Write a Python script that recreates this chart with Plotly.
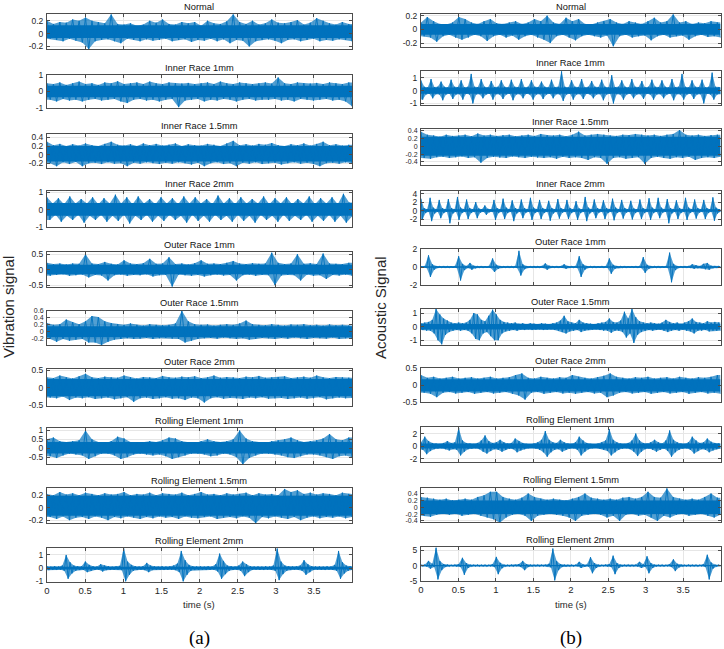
import plotly.graph_objects as go

# ---------------- data (envelope max/min per time bin) ----------------
titles = ["Normal", "Inner Race 1mm", "Inner Race 1.5mm", "Inner Race 2mm", "Outer Race 1mm",
          "Outer Race 1.5mm", "Outer Race 2mm", "Rolling Element 1mm", "Rolling Element 1.5mm",
          "Rolling Element 2mm"]
x_ticks = [0, 0.5, 1, 1.5, 2, 2.5, 3, 3.5]
t_end = 3.999

# vibration (a)
vib_normal_hi = [0.2,0.15,0.18,0.17,0.22,0.2,0.25,0.2,0.18,0.16,0.3,0.15,0.14,0.16,0.12,0.14,0.2,0.17,0.22,0.15,0.14,0.18,0.16,0.18,0.12,0.2,0.16,0.15,0.19,0.3,0.18,0.15,0.2,0.14,0.16,0.22,0.17,0.16,0.18,0.21,0.14,0.17,0.24,0.2,0.16,0.14,0.18,0.15]
vib_normal_lo = [-0.08,-0.1,-0.12,-0.08,-0.11,-0.14,-0.24,-0.12,-0.1,-0.09,-0.12,-0.15,-0.08,-0.1,-0.12,-0.09,-0.11,-0.1,-0.08,-0.12,-0.1,-0.09,-0.13,-0.1,-0.11,-0.08,-0.12,-0.09,-0.15,-0.1,-0.11,-0.2,-0.12,-0.1,-0.09,-0.11,-0.15,-0.1,-0.09,-0.12,-0.1,-0.08,-0.12,-0.1,-0.11,-0.09,-0.1,-0.12]
vib_ir1_hi = [0.5,0.45,0.55,0.4,0.5,0.6,0.45,0.5,0.4,0.55,0.5,0.62,0.45,0.5,0.55,0.45,0.6,0.5,0.45,0.55,0.5,0.48,0.52,0.45,0.5,0.55,0.45,0.6,0.5,0.45,0.55,0.5,0.45,0.5,0.55,0.48,0.85,0.5,0.45,0.55,0.5,0.48,0.52,0.45,0.55,0.5,0.45,0.55]
vib_ir1_lo = [-0.5,-0.6,-0.45,-0.55,-0.5,-0.6,-0.5,-0.45,-0.55,-0.5,-0.45,-0.6,-0.7,-0.5,-0.45,-0.55,-0.5,-0.6,-0.5,-0.45,-0.95,-0.55,-0.5,-0.45,-0.6,-0.5,-0.55,-0.45,-0.5,-0.6,-0.5,-0.45,-0.55,-0.5,-0.5,-0.45,-0.55,-0.5,-0.6,-0.45,-0.5,-0.55,-0.5,-0.45,-0.55,-0.5,-0.6,-0.9]
vib_ir15_hi = [0.3,0.22,0.25,0.2,0.24,0.21,0.26,0.22,0.2,0.25,0.3,0.23,0.21,0.24,0.2,0.26,0.22,0.25,0.21,0.23,0.26,0.2,0.24,0.22,0.21,0.25,0.23,0.2,0.26,0.32,0.22,0.24,0.21,0.25,0.23,0.27,0.22,0.2,0.24,0.22,0.26,0.21,0.25,0.3,0.22,0.24,0.21,0.23]
vib_ir15_lo = [-0.2,-0.27,-0.18,-0.22,-0.17,-0.27,-0.2,-0.19,-0.22,-0.18,-0.21,-0.2,-0.27,-0.19,-0.21,-0.18,-0.2,-0.22,-0.19,-0.21,-0.18,-0.2,-0.23,-0.19,-0.27,-0.2,-0.18,-0.22,-0.2,-0.27,-0.19,-0.21,-0.18,-0.22,-0.2,-0.19,-0.23,-0.2,-0.18,-0.21,-0.19,-0.22,-0.27,-0.2,-0.19,-0.21,-0.18,-0.2]
vib_ir2_hi = [0.7,0.35,0.65,0.3,0.75,0.35,0.6,0.35,0.7,0.3,0.65,0.35,0.85,0.35,0.7,0.3,0.75,0.35,0.6,0.3,0.7,0.35,0.65,0.3,0.75,0.35,0.7,0.35,0.6,0.3,0.8,0.35,0.65,0.3,0.7,0.35,0.6,0.35,0.75,0.3,0.65,0.35,0.7,0.3,0.6,0.35,0.75,0.3,0.65,0.35,0.7,0.3,0.9,0.4]
vib_ir2_lo = [-0.6,-0.3,-0.7,-0.35,-0.6,-0.3,-0.75,-0.35,-0.6,-0.3,-0.7,-0.35,-0.65,-0.3,-0.8,-0.35,-0.6,-0.3,-0.7,-0.35,-0.65,-0.3,-0.6,-0.35,-0.75,-0.3,-0.65,-0.35,-0.7,-0.3,-0.6,-0.35,-0.7,-0.3,-0.65,-0.35,-0.75,-0.3,-0.6,-0.35,-0.7,-0.3,-0.65,-0.35,-0.6,-0.3,-0.7,-0.35,-0.65,-0.3,-0.7,-0.35,-0.75,-0.4]
vib_or1_hi = [0.22,0.18,0.2,0.17,0.2,0.19,0.5,0.2,0.18,0.25,0.19,0.17,0.3,0.2,0.18,0.21,0.35,0.19,0.2,0.4,0.18,0.2,0.17,0.21,0.3,0.19,0.2,0.18,0.22,0.28,0.2,0.18,0.21,0.19,0.2,0.55,0.22,0.18,0.2,0.5,0.19,0.21,0.18,0.52,0.2,0.19,0.18,0.22]
vib_or1_lo = [-0.2,-0.17,-0.15,-0.2,-0.18,-0.16,-0.25,-0.17,-0.19,-0.35,-0.18,-0.16,-0.2,-0.17,-0.18,-0.15,-0.22,-0.18,-0.17,-0.55,-0.16,-0.18,-0.2,-0.17,-0.22,-0.18,-0.16,-0.19,-0.17,-0.35,-0.18,-0.16,-0.2,-0.17,-0.18,-0.5,-0.19,-0.17,-0.18,-0.35,-0.16,-0.2,-0.18,-0.3,-0.17,-0.19,-0.16,-0.2]
vib_or15_hi = [0.25,0.2,0.22,0.35,0.28,0.22,0.3,0.45,0.42,0.3,0.25,0.22,0.2,0.24,0.2,0.18,0.22,0.2,0.19,0.2,0.24,0.6,0.3,0.22,0.2,0.21,0.18,0.2,0.22,0.2,0.24,0.32,0.22,0.2,0.19,0.22,0.2,0.18,0.21,0.2,0.22,0.19,0.2,0.18,0.21,0.19,0.2,0.18]
vib_or15_lo = [-0.2,-0.28,-0.2,-0.25,-0.22,-0.2,-0.3,-0.3,-0.37,-0.28,-0.22,-0.2,-0.18,-0.2,-0.19,-0.17,-0.2,-0.18,-0.17,-0.19,-0.2,-0.3,-0.25,-0.2,-0.18,-0.17,-0.19,-0.16,-0.18,-0.2,-0.18,-0.22,-0.2,-0.17,-0.18,-0.2,-0.17,-0.19,-0.16,-0.18,-0.2,-0.17,-0.18,-0.19,-0.16,-0.2,-0.18,-0.17]
vib_or2_hi = [0.3,0.28,0.35,0.3,0.27,0.33,0.4,0.3,0.28,0.32,0.3,0.29,0.35,0.3,0.27,0.31,0.3,0.28,0.34,0.3,0.29,0.32,0.3,0.33,0.28,0.3,0.35,0.29,0.31,0.3,0.28,0.32,0.3,0.34,0.29,0.3,0.31,0.33,0.28,0.3,0.32,0.29,0.35,0.3,0.28,0.31,0.3,0.29]
vib_or2_lo = [-0.28,-0.3,-0.25,-0.35,-0.28,-0.3,-0.27,-0.32,-0.3,-0.28,-0.33,-0.3,-0.27,-0.4,-0.3,-0.28,-0.32,-0.3,-0.27,-0.31,-0.3,-0.35,-0.28,-0.3,-0.42,-0.3,-0.27,-0.31,-0.29,-0.3,-0.32,-0.28,-0.3,-0.27,-0.31,-0.3,-0.29,-0.32,-0.3,-0.28,-0.31,-0.3,-0.27,-0.33,-0.3,-0.28,-0.3,-0.29]
vib_re1_hi = [0.5,0.6,0.4,0.35,0.4,0.45,1.0,0.5,0.35,0.3,0.4,0.65,0.55,0.35,0.3,0.35,0.4,0.35,0.45,0.6,0.55,0.4,0.35,0.3,0.4,0.5,0.4,0.35,0.4,0.5,1.0,0.55,0.4,0.35,0.3,0.4,0.45,0.5,0.6,0.45,0.35,0.4,0.45,0.55,0.8,0.5,0.45,0.6]
vib_re1_lo = [-0.45,-0.55,-0.4,-0.3,-0.35,-0.4,-0.6,-0.45,-0.3,-0.3,-0.4,-0.6,-0.5,-0.35,-0.3,-0.35,-0.4,-0.35,-0.45,-0.6,-0.5,-0.4,-0.3,-0.3,-0.35,-0.45,-0.4,-0.3,-0.35,-0.5,-0.9,-0.55,-0.4,-0.3,-0.3,-0.35,-0.4,-0.5,-0.55,-0.45,-0.35,-0.35,-0.4,-0.5,-0.6,-0.45,-0.4,-0.5]
vib_re15_hi = [0.22,0.2,0.25,0.21,0.23,0.2,0.24,0.22,0.2,0.23,0.21,0.22,0.25,0.2,0.22,0.21,0.24,0.2,0.23,0.22,0.21,0.24,0.2,0.22,0.25,0.21,0.22,0.2,0.23,0.21,0.22,0.24,0.2,0.23,0.21,0.22,0.2,0.3,0.25,0.28,0.22,0.24,0.21,0.23,0.22,0.2,0.24,0.22]
vib_re15_lo = [-0.15,-0.18,-0.14,-0.2,-0.16,-0.15,-0.18,-0.14,-0.16,-0.2,-0.15,-0.17,-0.14,-0.16,-0.18,-0.15,-0.17,-0.14,-0.16,-0.15,-0.18,-0.14,-0.16,-0.17,-0.15,-0.14,-0.18,-0.16,-0.15,-0.17,-0.14,-0.16,-0.25,-0.15,-0.17,-0.14,-0.16,-0.18,-0.15,-0.2,-0.16,-0.14,-0.17,-0.15,-0.16,-0.14,-0.17,-0.15]
vib_re2_hi = [0.15,0.12,0.15,0.13,0.2,1.0,0.45,0.2,0.15,0.14,
              0.5,0.25,0.15,0.13,0.3,0.2,0.15,0.12,0.14,0.18,
              1.5,0.5,0.25,0.15,0.13,0.15,0.4,0.2,0.14,0.12,
              0.15,0.13,0.14,0.2,0.35,1.3,0.6,0.25,0.15,0.13,
              0.14,0.12,0.15,0.13,0.3,1.1,0.55,0.2,0.15,0.13,
              0.2,0.5,0.3,0.15,0.13,0.14,0.12,0.15,0.13,0.2,
              1.5,0.5,0.2,0.15,0.13,0.14,0.2,0.6,0.3,0.15,
              0.13,0.14,0.12,0.15,0.13,0.25,1.3,0.45,0.2,0.15]
vib_re2_lo = [-0.15,-0.13,-0.14,-0.12,-0.2,-0.8,-0.4,-0.2,-0.14,-0.13,
              -0.3,-0.2,-0.14,-0.12,-0.25,-0.15,-0.14,-0.13,-0.12,-0.15,
              -1.0,-0.5,-0.2,-0.14,-0.12,-0.15,-0.3,-0.15,-0.13,-0.12,
              -0.14,-0.13,-0.12,-0.15,-0.3,-1.0,-0.5,-0.2,-0.14,-0.13,
              -0.12,-0.14,-0.13,-0.12,-0.25,-0.8,-0.45,-0.2,-0.14,-0.12,
              -0.2,-0.6,-0.3,-0.14,-0.12,-0.13,-0.14,-0.12,-0.13,-0.2,
              -0.9,-0.45,-0.2,-0.14,-0.12,-0.13,-0.2,-0.5,-0.3,-0.14,
              -0.12,-0.13,-0.14,-0.12,-0.13,-0.2,-0.8,-0.4,-0.2,-0.14]

# acoustic (b)
ac_normal_hi = [0.1,0.18,0.12,0.08,0.07,0.1,0.18,0.15,0.1,0.08,0.12,0.15,0.09,0.08,0.1,0.12,0.08,0.1,0.15,0.12,0.2,0.1,0.08,0.17,0.12,0.15,0.08,0.07,0.1,0.12,0.15,0.1,0.08,0.12,0.1,0.08,0.12,0.17,0.1,0.12,0.22,0.1,0.12,0.08,0.1,0.09,0.12,0.1]
ac_normal_lo = [-0.1,-0.12,-0.18,-0.1,-0.08,-0.12,-0.15,-0.12,-0.08,-0.1,-0.17,-0.1,-0.08,-0.12,-0.09,-0.15,-0.1,-0.08,-0.12,-0.15,-0.2,-0.1,-0.08,-0.12,-0.16,-0.1,-0.08,-0.1,-0.12,-0.09,-0.25,-0.1,-0.08,-0.12,-0.1,-0.09,-0.16,-0.1,-0.08,-0.12,-0.1,-0.09,-0.15,-0.1,-0.08,-0.11,-0.1,-0.12]
ac_ir1_hi = [0.8,0.3,0.25, 0.9,0.28,0.3, 0.7,0.3,0.25, 0.85,0.3,0.28, 0.8,0.25,0.3, 1.3,0.3,0.28,
             0.9,0.3,0.25, 0.75,0.28,0.3, 0.8,0.3,0.25, 0.85,0.3,0.28, 0.9,0.25,0.3, 0.8,0.3,0.28,
             0.7,0.3,0.25, 0.85,0.28,0.3, 1.5,0.3,0.25, 0.8,0.3,0.28, 0.9,0.25,0.3, 0.75,0.3,0.28,
             0.85,0.3,0.25, 1.2,0.28,0.3, 0.8,0.3,0.25, 0.9,0.3,0.28, 0.75,0.25,0.3, 0.85,0.3,0.28,
             0.8,0.3,0.25, 0.9,0.28,0.3, 1.3,0.3,0.25, 0.8,0.3,0.28, 0.85,0.25,0.3, 1.4,0.3,0.28]
ac_ir1_lo = [-0.7,-0.3,-0.25, -0.6,-0.28,-0.3, -0.75,-0.3,-0.25, -0.65,-0.3,-0.28, -0.7,-0.25,-0.3, -1.0,-0.3,-0.28,
             -0.6,-0.3,-0.25, -0.7,-0.28,-0.3, -0.65,-0.3,-0.25, -0.75,-0.3,-0.28, -0.6,-0.25,-0.3, -0.7,-0.3,-0.28,
             -0.65,-0.3,-0.25, -0.6,-0.28,-0.3, -0.8,-0.3,-0.25, -0.7,-0.3,-0.28, -0.65,-0.25,-0.3, -0.6,-0.3,-0.28,
             -0.75,-0.3,-0.25, -1.0,-0.28,-0.3, -0.7,-0.3,-0.25, -0.6,-0.3,-0.28, -0.65,-0.25,-0.3, -0.7,-0.3,-0.28,
             -0.6,-0.3,-0.25, -0.75,-0.28,-0.3, -0.7,-0.3,-0.25, -0.65,-0.3,-0.28, -1.0,-0.25,-0.3, -0.7,-0.3,-0.28]
ac_ir15_hi = [0.38,0.3,0.28,0.25,0.3,0.27,0.28,0.3,0.26,0.33,0.28,0.3,0.27,0.29,0.3,0.26,0.28,0.3,0.27,0.32,0.29,0.28,0.3,0.26,0.3,0.38,0.28,0.3,0.32,0.3,0.28,0.27,0.3,0.29,0.32,0.3,0.28,0.3,0.27,0.3,0.32,0.42,0.3,0.28,0.3,0.27,0.29,0.3]
ac_ir15_lo = [-0.3,-0.32,-0.28,-0.27,-0.3,-0.28,-0.26,-0.3,-0.28,-0.42,-0.3,-0.27,-0.29,-0.3,-0.26,-0.28,-0.3,-0.27,-0.29,-0.3,-0.28,-0.32,-0.27,-0.3,-0.28,-0.3,-0.35,-0.28,-0.3,-0.45,-0.3,-0.28,-0.32,-0.3,-0.28,-0.45,-0.3,-0.27,-0.3,-0.32,-0.28,-0.3,-0.27,-0.35,-0.3,-0.28,-0.3,-0.27]
ac_ir2_hi = [2.8,0.6,0.3, 3.0,0.7,0.3, 2.5,0.6,0.3, 2.7,0.6,0.3, 3.2,0.7,0.3, 2.6,0.6,0.3, 2.0,0.5,0.3, 1.2,0.4,0.3,
             2.5,0.6,0.3, 2.8,0.7,0.3, 2.4,0.6,0.3, 2.6,0.6,0.3, 3.0,0.7,0.3, 2.5,0.6,0.3, 2.3,0.6,0.3, 2.7,0.6,0.3,
             2.5,0.6,0.3, 2.2,0.5,0.3, 3.2,0.7,0.3, 2.6,0.6,0.3, 2.4,0.6,0.3, 2.8,0.7,0.3, 2.5,0.6,0.3, 2.3,0.5,0.3,
             2.6,0.6,0.3, 2.9,0.7,0.3, 3.0,0.7,0.3, 2.7,0.6,0.3, 2.4,0.6,0.3, 3.0,0.7,0.3, 2.6,0.6,0.3, 2.5,0.6,0.3,
             3.1,0.7,0.3]
ac_ir2_lo = [-2.0,-0.6,-0.3, -2.5,-0.7,-0.3, -1.8,-0.6,-0.3, -3.0,-0.7,-0.3, -2.2,-0.6,-0.3, -2.0,-0.6,-0.3, -1.8,-0.5,-0.3, -1.0,-0.4,-0.3,
             -2.2,-0.6,-0.3, -2.0,-0.6,-0.3, -2.5,-0.7,-0.3, -1.8,-0.5,-0.3, -2.2,-0.6,-0.3, -2.0,-0.6,-0.3, -2.4,-0.7,-0.3, -1.9,-0.5,-0.3,
             -2.0,-0.6,-0.3, -2.2,-0.6,-0.3, -2.5,-0.7,-0.3, -1.8,-0.5,-0.3, -2.0,-0.6,-0.3, -2.3,-0.6,-0.3, -1.9,-0.5,-0.3, -2.1,-0.6,-0.3,
             -2.0,-0.6,-0.3, -2.2,-0.6,-0.3, -1.8,-0.5,-0.3, -3.0,-0.7,-0.3, -2.0,-0.6,-0.3, -2.2,-0.6,-0.3, -1.9,-0.5,-0.3, -2.0,-0.6,-0.3,
             -2.4,-0.7,-0.3]
ac_or1_hi = [0.1,0.12,1.3,0.3,0.12,0.1,0.12,0.1,0.11,0.12,
             1.2,0.35,0.12,0.45,0.15,0.1,0.12,0.1,0.12,0.95,
             0.25,0.12,0.1,0.12,0.1,0.12,1.8,0.3,0.12,0.1,
             0.12,0.1,0.12,0.4,0.15,0.1,0.12,0.11,0.3,0.12,
             0.1,0.12,1.2,0.3,0.12,0.1,0.12,0.1,0.12,0.11,
             0.95,0.25,0.12,0.1,0.12,0.11,0.1,0.12,0.1,1.1,
             0.25,0.12,0.1,0.12,0.1,0.12,1.6,0.35,0.12,0.1,
             0.12,0.1,0.3,0.2,0.12,0.35,0.45,0.15,0.12,0.1]
ac_or1_lo = [-0.1,-0.12,-1.1,-0.3,-0.12,-0.1,-0.12,-0.1,-0.11,-0.12,
             -1.5,-0.35,-0.12,-0.3,-0.15,-0.1,-0.12,-0.1,-0.12,-0.55,
             -0.2,-0.12,-0.1,-0.12,-0.1,-0.12,-0.95,-0.25,-0.12,-0.1,
             -0.12,-0.1,-0.12,-0.3,-0.12,-0.1,-0.12,-0.11,-0.2,-0.12,
             -0.1,-0.12,-1.1,-0.3,-0.12,-0.1,-0.12,-0.1,-0.12,-0.11,
             -0.75,-0.2,-0.12,-0.1,-0.12,-0.11,-0.1,-0.12,-0.1,-0.65,
             -0.2,-0.12,-0.1,-0.12,-0.1,-0.12,-1.7,-0.35,-0.12,-0.1,
             -0.12,-0.1,-0.2,-0.15,-0.12,-0.25,-0.3,-0.15,-0.12,-0.1]
ac_or15_hi = [0.25,0.3,0.35,0.5,1.3,0.9,0.6,0.45,0.3,0.25,
              0.3,0.25,0.3,0.5,1.0,0.9,0.5,0.4,0.8,1.25,
              0.9,0.5,0.35,0.3,0.25,0.3,0.22,0.25,0.2,0.25,
              0.22,0.2,0.25,0.22,0.2,0.25,0.3,0.45,0.8,0.4,
              0.3,0.25,0.5,0.3,0.25,0.22,0.2,0.25,0.3,0.35,
              0.6,0.35,0.3,0.45,1.1,0.6,1.3,0.7,0.4,0.3,
              0.25,0.3,0.25,0.22,0.3,0.5,0.35,0.25,0.3,0.22,
              0.3,0.4,0.6,0.35,0.3,0.25,0.4,0.3,0.35,0.3]
ac_or15_lo = [-0.25,-0.3,-0.3,-0.5,-1.0,-1.3,-0.6,-0.4,-0.3,-0.25,
              -0.3,-0.25,-0.3,-0.5,-0.9,-1.0,-0.5,-0.4,-0.7,-1.0,
              -1.0,-0.5,-0.35,-0.3,-0.25,-0.3,-0.22,-0.25,-0.2,-0.25,
              -0.22,-0.2,-0.25,-0.22,-0.2,-0.25,-0.3,-0.4,-0.5,-0.35,
              -0.3,-0.25,-0.4,-0.3,-0.25,-0.22,-0.2,-0.25,-0.3,-0.3,
              -0.45,-0.3,-0.3,-0.4,-0.8,-0.5,-1.2,-0.6,-0.4,-0.3,
              -0.25,-0.3,-0.25,-0.22,-0.3,-0.4,-0.3,-0.25,-0.3,-0.22,
              -0.3,-0.35,-0.5,-0.3,-0.3,-0.25,-0.35,-0.3,-0.3,-0.3]
ac_or2_hi = [0.3,0.22,0.25,0.2,0.22,0.25,0.2,0.22,0.24,0.2,0.22,0.25,0.2,0.22,0.24,0.3,0.35,0.22,0.2,0.25,0.22,0.2,0.24,0.22,0.3,0.25,0.22,0.2,0.24,0.28,0.35,0.25,0.22,0.2,0.24,0.22,0.25,0.2,0.22,0.24,0.2,0.25,0.22,0.2,0.24,0.22,0.25,0.3]
ac_or2_lo = [-0.22,-0.25,-0.35,-0.22,-0.2,-0.24,-0.22,-0.2,-0.25,-0.22,-0.2,-0.24,-0.22,-0.2,-0.25,-0.3,-0.42,-0.22,-0.2,-0.25,-0.22,-0.2,-0.24,-0.22,-0.25,-0.22,-0.2,-0.24,-0.22,-0.35,-0.3,-0.22,-0.2,-0.24,-0.22,-0.2,-0.25,-0.22,-0.2,-0.24,-0.22,-0.2,-0.25,-0.22,-0.2,-0.24,-0.22,-0.25]
ac_re1_hi = [0.6,1.5,0.8,0.5,0.4,0.35,0.5,0.8,0.5,0.6,
             2.9,0.9,0.5,0.4,0.35,0.5,0.9,1.7,0.8,0.5,
             0.6,1.0,0.6,0.4,0.5,1.2,0.8,0.5,0.35,0.3,
             0.4,0.6,1.0,2.4,1.0,0.6,0.5,1.0,0.6,0.4,
             0.35,0.6,1.5,0.9,0.5,0.35,0.3,0.4,0.6,0.9,
             2.7,1.0,0.6,0.4,0.35,0.5,0.9,2.0,0.9,0.5,
             0.4,0.6,1.0,0.6,0.4,0.9,2.5,1.0,0.6,0.4,
             0.35,0.6,1.5,0.9,0.5,0.6,1.2,0.7,0.5,0.4]
ac_re1_lo = [-0.6,-1.3,-0.8,-0.5,-0.4,-0.35,-0.5,-0.7,-0.5,-0.6,
             -1.5,-0.9,-0.5,-0.4,-0.35,-0.5,-0.9,-1.2,-0.8,-0.5,
             -0.6,-0.9,-0.6,-0.4,-0.5,-1.0,-0.7,-0.5,-0.35,-0.3,
             -0.4,-0.6,-1.0,-1.7,-1.0,-0.6,-0.5,-0.9,-0.6,-0.4,
             -0.35,-0.6,-1.5,-0.9,-0.5,-0.35,-0.3,-0.4,-0.6,-0.8,
             -1.5,-1.0,-0.6,-0.4,-0.35,-0.5,-0.9,-1.6,-0.9,-0.5,
             -0.4,-0.6,-0.9,-0.6,-0.4,-0.8,-1.7,-1.0,-0.6,-0.4,
             -0.35,-0.6,-1.2,-0.8,-0.5,-0.6,-1.0,-0.7,-0.5,-0.4]
ac_re15_hi = [0.3,0.28,0.25,0.22,0.25,0.2,0.22,0.25,0.22,0.3,0.35,0.45,0.45,0.3,0.25,0.22,0.28,0.4,0.3,0.25,0.22,0.25,0.22,0.2,0.25,0.3,0.4,0.28,0.25,0.22,0.25,0.22,0.28,0.3,0.25,0.3,0.45,0.3,0.28,0.55,0.3,0.25,0.22,0.25,0.22,0.3,0.4,0.28]
ac_re15_lo = [-0.25,-0.28,-0.22,-0.2,-0.22,-0.2,-0.25,-0.22,-0.2,-0.25,-0.3,-0.35,-0.45,-0.3,-0.22,-0.2,-0.25,-0.4,-0.25,-0.22,-0.2,-0.22,-0.25,-0.3,-0.4,-0.25,-0.22,-0.2,-0.22,-0.3,-0.25,-0.4,-0.22,-0.2,-0.25,-0.22,-0.3,-0.4,-0.25,-0.3,-0.22,-0.2,-0.25,-0.22,-0.2,-0.25,-0.3,-0.22]
ac_re2_hi = [0.25,0.3,1.5,0.6,5.8,1.5,0.5,0.3,0.25,0.3,
             0.5,2.5,0.8,0.3,0.25,0.3,0.25,0.3,0.25,0.5,
             2.8,0.9,0.3,0.25,0.3,0.25,0.5,1.5,0.5,0.3,
             0.25,0.3,0.25,0.3,0.6,5.5,1.5,0.5,0.3,0.25,
             0.3,0.25,1.2,0.4,0.3,2.7,0.8,0.3,0.25,0.3,
             0.5,3.2,0.8,0.3,0.25,0.3,0.25,0.3,1.2,0.4,
             3.0,0.8,0.3,0.25,0.3,0.25,0.5,2.0,0.6,0.3,
             0.25,0.3,0.25,0.3,0.25,0.5,3.5,1.0,0.3,0.25]
ac_re2_lo = [-0.25,-0.3,-1.0,-0.5,-4.5,-1.5,-0.5,-0.3,-0.25,-0.3,
             -0.5,-3.0,-0.8,-0.3,-0.25,-0.3,-0.25,-0.3,-0.25,-0.5,
             -2.8,-0.9,-0.3,-0.25,-0.3,-0.25,-0.5,-1.5,-0.5,-0.3,
             -0.25,-0.3,-0.25,-0.3,-0.6,-4.8,-1.5,-0.5,-0.3,-0.25,
             -0.3,-0.25,-0.8,-0.4,-0.3,-2.5,-0.8,-0.3,-0.25,-0.3,
             -0.5,-2.8,-0.8,-0.3,-0.25,-0.3,-0.25,-0.3,-0.8,-0.4,
             -2.5,-0.8,-0.3,-0.25,-0.3,-0.25,-0.5,-1.8,-0.6,-0.3,
             -0.25,-0.3,-0.25,-0.3,-0.25,-0.5,-4.5,-1.0,-0.3,-0.25]

# dense-core band of each signal (lower, upper)
vib_core = [(-0.07,0.13),(-0.35,0.35),(-0.16,0.2),(-0.35,0.38),(-0.15,0.16),
            (-0.15,0.16),(-0.24,0.25),(-0.3,0.35),(-0.13,0.19),(-0.1,0.1)]
ac_core = [(-0.08,0.08),(-0.25,0.25),(-0.24,0.25),(-0.3,0.3),(-0.08,0.08),
           (-0.2,0.2),(-0.18,0.18),(-0.4,0.4),(-0.2,0.2),(-0.2,0.2)]

vib_hi = [vib_normal_hi, vib_ir1_hi, vib_ir15_hi, vib_ir2_hi, vib_or1_hi, vib_or15_hi, vib_or2_hi, vib_re1_hi, vib_re15_hi, vib_re2_hi]
vib_lo = [vib_normal_lo, vib_ir1_lo, vib_ir15_lo, vib_ir2_lo, vib_or1_lo, vib_or15_lo, vib_or2_lo, vib_re1_lo, vib_re15_lo, vib_re2_lo]
ac_hi = [ac_normal_hi, ac_ir1_hi, ac_ir15_hi, ac_ir2_hi, ac_or1_hi, ac_or15_hi, ac_or2_hi, ac_re1_hi, ac_re15_hi, ac_re2_hi]
ac_lo = [ac_normal_lo, ac_ir1_lo, ac_ir15_lo, ac_ir2_lo, ac_or1_lo, ac_or15_lo, ac_or2_lo, ac_re1_lo, ac_re15_lo, ac_re2_lo]

vib_yticks = [[-0.2,0,0.2],[-1,0,1],[-0.2,0,0.2,0.4],[-1,0,1],[-0.5,0,0.5],
              [-0.2,0,0.2,0.4,0.6],[-0.5,0,0.5],[-0.5,0,0.5,1],[-0.2,0,0.2],[-1,0,1]]
vib_yrange = [[-0.24,0.3],[-1,1],[-0.3,0.48],[-1,1.06],[-0.55,0.56],
              [-0.37,0.6],[-0.52,0.53],[-0.9,1.12],[-0.25,0.31],[-1.02,1.5]]
ac_yticks = [[-0.2,0,0.2],[-1,0,1],[-0.4,-0.2,0,0.2,0.4],[-2,0,2,4],[-2,0,2],
             [-1,0,1],[-0.5,0,0.5],[-2,0,2],[-0.4,-0.2,0,0.2,0.4],[-5,0,5]]
ac_yrange = [[-0.25,0.22],[-1.12,1.55],[-0.48,0.44],[-3.4,4.6],[-2,2],
             [-1.35,1.3],[-0.5,0.5],[-2.5,3],[-0.44,0.57],[-5,5.9]]

# ---------------- layout geometry (pixels) ----------------
W, H = 724, 649
left_x = (47, 352)
right_x = (421, 720.5)
left_rows = [(14.3,49),(75,108),(134,167.5),(191,227),(252.3,286.7),(310.7,345),(369.3,406),(428.3,464.3),(488.3,523.3),(548.3,581.7)]
right_rows = [(14.3,46.5),(70.7,105),(129.3,165),(191,225),(249,285),(309,345),(368.3,402.3),(427.3,461.7),(487.7,522.3),(547.3,581)]

BLUE = "#0072BD"
LIGHT = "rgba(0,114,189,0.68)"
AX = "#4d4d4d"
GRID = "#e6e6e6"
FONT = "Liberation Sans, Arial, sans-serif"

def zig(hi, lo):
    n = len(hi)
    dt = t_end / (n - 0.5)
    xs, ys = [], []
    for i in range(n):
        xs += [i * dt, (i + 0.5) * dt]
        ys += [hi[i], lo[i]]
    return xs, ys

def envelope(hi, lo):
    n = len(hi)
    dt = t_end / (n - 0.5)
    up_t = [i * dt for i in range(n)] + [t_end]
    dn_t = [(i + 0.5) * dt for i in range(n)]
    up_v = list(hi) + [hi[-1]]
    dn_v = list(lo)
    return up_t + dn_t[::-1] + [0], up_v + dn_v[::-1] + [lo[0]]

def fmt(v):
    return f"{v:g}"

fig = go.Figure()
layout = dict(width=W, height=H, margin=dict(l=0, r=0, t=0, b=0, autoexpand=False),
              paper_bgcolor="white", plot_bgcolor="white", showlegend=False,
              font=dict(family=FONT, size=10, color="#262626"))
annotations = []

panels = []
for r in range(10):
    panels.append((left_x, left_rows[r], vib_hi[r], vib_lo[r], vib_core[r], vib_yticks[r], vib_yrange[r], titles[r], r == 9))
for r in range(10):
    panels.append((right_x, right_rows[r], ac_hi[r], ac_lo[r], ac_core[r], ac_yticks[r], ac_yrange[r], titles[r], r == 9))

for k, (xd, yd, hi, lo, core, yt, yr, title, bottom) in enumerate(panels, start=1):
    ex, ey = envelope(hi, lo)
    fig.add_trace(go.Scatter(x=ex, y=ey, mode="lines", fill="toself", fillcolor=LIGHT,
                             line=dict(width=0), xaxis=f"x{k}", yaxis=f"y{k}", hoverinfo="skip"))
    fig.add_trace(go.Scatter(x=[0, t_end, t_end, 0], y=[core[1], core[1], core[0], core[0]],
                             mode="lines", fill="toself", fillcolor=BLUE, line=dict(width=0),
                             xaxis=f"x{k}", yaxis=f"y{k}", hoverinfo="skip"))
    xs, ys = zig(hi, lo)
    fig.add_trace(go.Scatter(x=xs, y=ys, mode="lines", line=dict(color=BLUE, width=0.9),
                             xaxis=f"x{k}", yaxis=f"y{k}", hoverinfo="skip"))
    xname = "xaxis" if k == 1 else f"xaxis{k}"
    yname = "yaxis" if k == 1 else f"yaxis{k}"
    layout[xname] = dict(domain=[xd[0] / W, xd[1] / W], anchor=f"y{k}", range=[0, t_end],
                         tickmode="array", tickvals=x_ticks,
                         ticktext=[fmt(v) for v in x_ticks] if bottom else [""] * len(x_ticks),
                         ticks="inside", ticklen=3, tickcolor=AX, showline=True, linecolor=AX,
                         linewidth=1, mirror="ticks", showgrid=True, gridcolor=GRID, gridwidth=1,
                         zeroline=False, automargin=False, ticklabelstandoff=0,
                         tickfont=dict(size=9.5, color="#262626"))
    yfs = 7 if len(yt) >= 5 else 8.5
    layout[yname] = dict(domain=[1 - yd[1] / H, 1 - yd[0] / H], anchor=f"x{k}", range=yr,
                         tickmode="array", tickvals=yt, ticktext=[fmt(v) for v in yt],
                         ticks="inside", ticklen=3, tickcolor=AX, showline=True, linecolor=AX,
                         linewidth=1, mirror="ticks", showgrid=True, gridcolor=GRID, gridwidth=1,
                         zeroline=False, automargin=False, ticklabelstandoff=1,
                         tickfont=dict(size=yfs, color="#262626"))
    annotations.append(dict(text=title, x=(xd[0] + xd[1]) / 2 / W, y=1 - (yd[0] - 0.5) / H,
                            xref="paper", yref="paper", xanchor="center", yanchor="bottom",
                            showarrow=False, font=dict(size=9.3, color="#111111", family=FONT)))

annotations += [
    dict(text="time (s)", x=199.5 / W, y=1 - 604 / H, xref="paper", yref="paper",
         xanchor="center", yanchor="middle", showarrow=False, font=dict(size=9.5, color="#262626")),
    dict(text="time (s)", x=570.5 / W, y=1 - 604 / H, xref="paper", yref="paper",
         xanchor="center", yanchor="middle", showarrow=False, font=dict(size=9.5, color="#262626")),
    dict(text="Vibration signal", x=8 / W, y=1 - 307 / H, xref="paper", yref="paper",
         xanchor="center", yanchor="middle", textangle=-90, showarrow=False,
         font=dict(size=15, color="#262626")),
    dict(text="Acoustic Signal", x=380 / W, y=1 - 308 / H, xref="paper", yref="paper",
         xanchor="center", yanchor="middle", textangle=-90, showarrow=False,
         font=dict(size=15, color="#262626")),
    dict(text="(a)", x=199.5 / W, y=1 - 638 / H, xref="paper", yref="paper",
         xanchor="center", yanchor="middle", showarrow=False,
         font=dict(size=19, color="#000000", family="Liberation Serif, Times New Roman, serif")),
    dict(text="(b)", x=570.5 / W, y=1 - 638 / H, xref="paper", yref="paper",
         xanchor="center", yanchor="middle", showarrow=False,
         font=dict(size=19, color="#000000", family="Liberation Serif, Times New Roman, serif")),
]
layout["annotations"] = annotations
fig.update_layout(**layout)
fig.write_html("out.html", config={"displayModeBar": False},
               post_script="document.body.style.margin='0px';document.body.style.padding='0px';"
                           "document.documentElement.style.overflow='hidden';")
